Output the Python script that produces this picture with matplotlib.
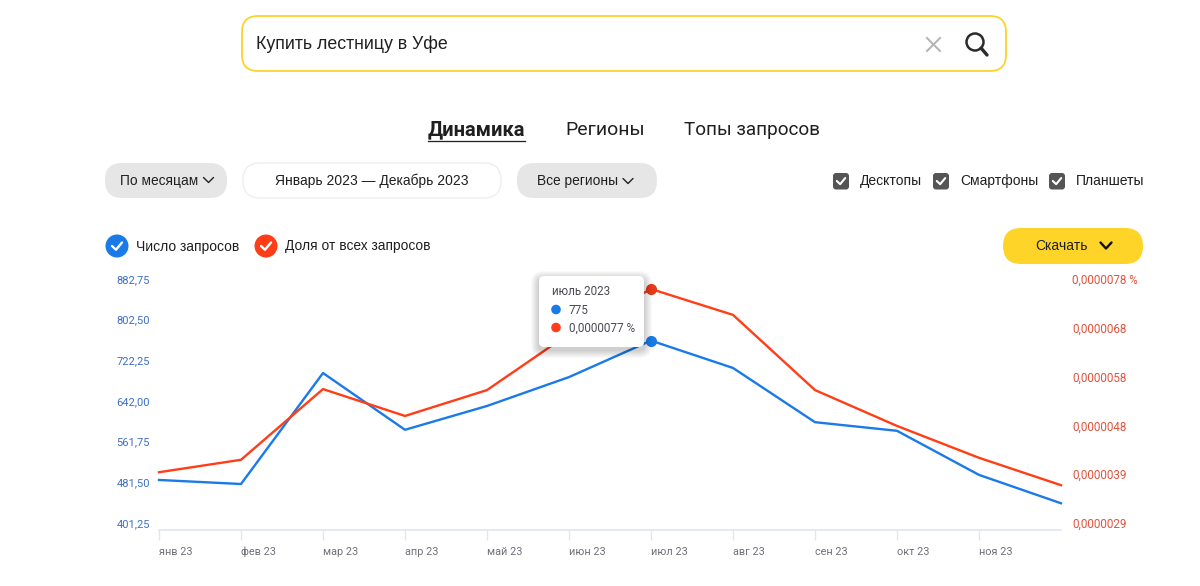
import matplotlib
matplotlib.use("Agg")
import matplotlib.pyplot as plt
from matplotlib.patches import FancyBboxPatch, Circle
from matplotlib.transforms import ScaledTranslation

plt.rcParams['font.family'] = ['Roboto', 'DejaVu Sans']

months = ["янв 23", "фев 23", "мар 23", "апр 23", "май 23", "июн 23",
          "июл 23", "авг 23", "сен 23", "окт 23", "ноя 23", "дек 23"]
queries = [500, 492, 711, 599, 646, 703, 775, 721, 614, 597, 510, 454]
share = [40.6, 43.1, 57.3, 51.9, 57.1, 68.4, 77.4, 72.2, 57.1, 49.9, 43.5, 38.0]  # 1e-7 %
left_ticks = [401.25, 481.50, 561.75, 642.00, 722.25, 802.50, 882.75]
right_ticks = [29, 38.8, 48.6, 58.4, 68.2, 78]
right_labels = ["0,0000029", "0,0000039", "0,0000048", "0,0000058", "0,0000068", "0,0000078 %"]

BLUE = "#1a7ae8"
RED = "#ff3d17"
W, H = 1200, 586

fig = plt.figure(figsize=(12, 5.86), dpi=100, facecolor="white")

# chart
ax = fig.add_axes([159 / W, 1 - 530 / H, (1061 - 159) / W, (530 - 286) / H])
ax.set_xlim(0, 11)
ax.set_ylim(401.25, 882.75)
ax.plot(range(12), queries, color=BLUE, lw=1.7, clip_on=False)
for s in ["top", "left", "right"]:
    ax.spines[s].set_visible(False)
ax.spines["bottom"].set_color("#dfe6f4")
ax.spines["bottom"].set_linewidth(1.2)
ax.set_xticks(range(11))
ax.set_xticklabels(months[:11], fontsize=7.8, color="#70707a", ha="left", va="baseline")
ax.tick_params(axis="x", length=7, width=1, color="#dfe6f4", pad=11)
ax.set_yticks(left_ticks)
ax.set_yticklabels([f"{v:.2f}".replace(".", ",") for v in left_ticks], fontsize=8, color="#3d6fc4")
ax.tick_params(axis="y", length=0, pad=6.5)
for lab in ax.get_yticklabels():
    lab.set_transform(lab.get_transform() + ScaledTranslation(0, 7 / 100, fig.dpi_scale_trans))

ax2 = ax.twinx()
ax2.set_ylim(29, 78)
ax2.plot(range(12), share, color=RED, lw=1.7, clip_on=False)
for s in ax2.spines.values():
    s.set_visible(False)
ax2.set_yticks(right_ticks)
ax2.set_yticklabels(right_labels, fontsize=8.4, color="#e0523c")
ax2.tick_params(axis="y", length=0, pad=8)
for lab in ax2.get_yticklabels():
    lab.set_transform(lab.get_transform() + ScaledTranslation(0, 7 / 100, fig.dpi_scale_trans))

ax.plot([6], [queries[6]], "o", color=BLUE, ms=7, clip_on=False, zorder=5)
ax2.plot([6], [share[6]], "o", color="#e8391a", ms=7, clip_on=False, zorder=5)

# page elements on top, in pixel coordinates
ui = fig.add_axes([0, 0, 1, 1], zorder=10)
ui.set_xlim(0, W)
ui.set_ylim(H, 0)
ui.axis("off")

UI_FONT = ['Liberation Sans', 'DejaVu Sans']


def box(x0, y0, x1, y1, r, fc, ec="none", lw=1, **kw):
    p = FancyBboxPatch((x0 + r, y0 + r), x1 - x0 - 2 * r, y1 - y0 - 2 * r,
                       boxstyle=f"round,pad={r},rounding_size={r}",
                       fc=fc, ec=ec, lw=lw, **kw)
    ui.add_patch(p)


def chevron(x, y, w, h, lw=1, color="#222222"):
    ui.plot([x - w, x, x + w], [y - h, y + h, y - h], color=color, lw=lw, solid_capstyle="round")


def check(x, y, s, color="white", lw=1.5):
    ui.plot([x - s, x - s * 0.2, x + s], [y, y + s * 0.75, y - s * 0.7], color=color, lw=lw,
            solid_capstyle="round", solid_joinstyle="round")


def label(x, y, s, size=10, color="#1f1f1f", ha="left", **kw):
    # baseline placement so words without descenders stay on the same line
    ui.text(x, y + size * 0.5, s, fontsize=size, color=color, ha=ha, va="baseline", **kw)


# search bar
box(242, 16, 1006, 71, 16, "white", ec="#ffd22b", lw=1.3)
label(256, 43, "Купить лестницу в Уфе", size=12.8, family=UI_FONT)
ui.plot([927, 940], [38, 51], color="#b3b3b3", lw=1.4)
ui.plot([927, 940], [51, 38], color="#b3b3b3", lw=1.4)
ui.add_patch(Circle((975, 42), 8.5, fc="none", ec="#2b2b2b", lw=1.8))
ui.plot([981, 987], [48, 55], color="#2b2b2b", lw=2.4, solid_capstyle="round")

# tabs
label(428, 128, "Динамика", size=14.5, fontweight="bold")
ui.plot([428, 525], [140.5, 140.5], color="#1f1f1f", lw=0.9)
label(565, 128, "Регионы", size=14)
label(684, 128, "Топы запросов", size=13.6)

# filters
box(105, 163, 227, 198, 17, "#e6e6e6")
label(120, 180.5, "По месяцам", size=9.9, family=UI_FONT)
chevron(208.5, 180, 5, 2.5)
box(243, 163, 501, 198, 17, "white", ec="#eeeeee", lw=1)
label(372, 180.5, "Январь 2023 — Декабрь 2023", size=10, ha="center", family=UI_FONT)
box(517, 163, 657, 198, 17, "#e6e6e6")
label(537, 180.5, "Все регионы", size=9.9, family=UI_FONT)
chevron(628, 181, 5, 2.5)

for cx, tx, s in [(841, 860, "Десктопы"), (941, 960, "Смартфоны"), (1057, 1076, "Планшеты")]:
    box(cx - 8, 173, cx + 8, 189.5, 3, "#555555")
    check(cx, 181, 4.2)
    label(tx, 180, s, size=10, family=UI_FONT)

# legend
ui.add_patch(Circle((117, 246), 11.5, fc=BLUE, ec="none"))
check(117, 246, 5, lw=1.7)
label(136, 245.5, "Число запросов", size=10, family=UI_FONT)
ui.add_patch(Circle((266, 246), 11.5, fc=RED, ec="none"))
check(266, 246, 5, lw=1.7)
label(285, 245.5, "Доля от всех запросов", size=9.9, family=UI_FONT)

# download button
box(1003, 228, 1143, 264, 18, "#ffd429")
label(1061, 245.5, "Скачать", size=10, ha="center", family=UI_FONT)
chevron(1106, 245.5, 5.5, 3, lw=1.7, color="#111111")

# tooltip
for i in range(8, 0, -1):
    box(539 - i, 276 - i + 3, 644 + i, 347 + i + 3, 5 + i, "black", alpha=0.022)
box(539, 276, 644, 347, 5, "white")
label(552, 291, "июль 2023", size=8.4, color="#4a4a55")
ui.add_patch(Circle((556, 309.5), 4.8, fc=BLUE, ec="none"))
label(569, 309.5, "775", size=8.5, color="#4a4a55")
ui.add_patch(Circle((556, 327.5), 4.8, fc=RED, ec="none"))
label(569, 327.5, "0,0000077 %", size=8.5, color="#4a4a55")

fig.savefig("out.png", dpi=100)
